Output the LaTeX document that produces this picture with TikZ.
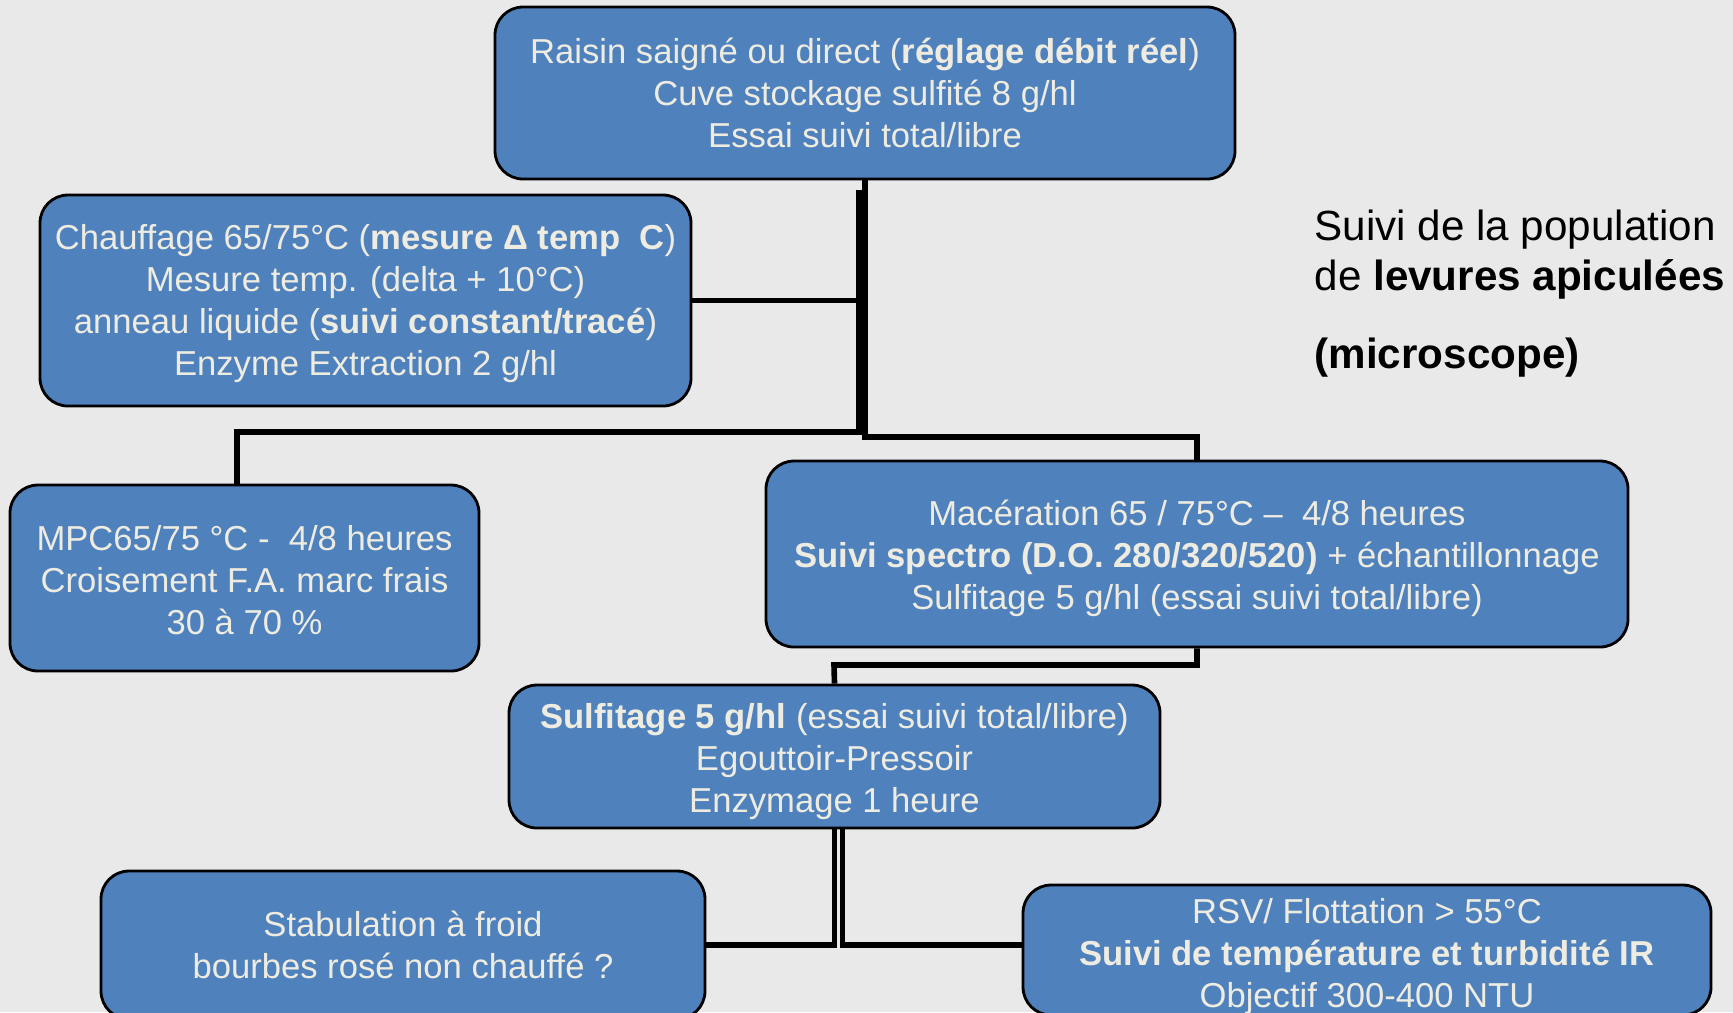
\documentclass[tikz,border=0pt]{standalone}
\usepackage{fontspec}
\setmainfont{Liberation Sans}
\usepackage{tikz}

\definecolor{boxblue}{HTML}{4F81BD}
\definecolor{cream}{HTML}{EEECE1}
\definecolor{backgray}{HTML}{E9E9E9}

% taller first line, to push a box's text down a little
\newcommand{\lift}[1]{\rule{0pt}{#1}}

\begin{document}
\begin{tikzpicture}[
  stage/.style={draw=black, line width=0.8pt, fill=boxblue, rounded corners=0.28cm,
    text=cream, align=center, inner sep=0pt, font=\fontsize{9.85}{11.95}\selectfont},
  link/.style={draw=black, line width=1.6pt}
]

  % Background
  \fill[backgray] (0,0) rectangle (17.33,-10.12);
  \useasboundingbox (0,0) rectangle (17.33,-10.12);

  % Raisin
  \node[stage, minimum width=7.40cm, minimum height=1.72cm] (raisin) at (8.65,-0.93)
    {Raisin saigné ou direct (\textbf{réglage débit réel})\\
     Cuve stockage sulfité 8 g/hl\\
     Essai suivi total/libre};

  % Chauffage
  \node[stage, minimum width=6.51cm, minimum height=2.11cm] (chauf) at (3.655,-3.005)
    {\lift{0.32cm}Chauffage 65/75°C (\textbf{mesure Δ temp\ \ C})\\
     Mesure temp. (delta + 10°C)\\
     anneau liquide (\textbf{suivi constant/tracé})\\
     Enzyme Extraction 2 g/hl};

  % MPC
  \node[stage, minimum width=4.69cm, minimum height=1.86cm] (mpc) at (2.445,-5.78)
    {\lift{0.30cm}MPC65/75 °C -\ \ 4/8 heures\\
     Croisement F.A. marc frais\\
     30 à 70 \%};

  % Maceration
  \node[stage, minimum width=8.62cm, minimum height=1.86cm] (mac) at (11.97,-5.54)
    {\lift{0.34cm}Macération 65 / 75°C –\ \ 4/8 heures\\
     \textbf{Suivi spectro (D.O. 280/320/520)} + échantillonnage\\
     Sulfitage 5 g/hl (essai suivi total/libre)};

  % Sulfitage
  \node[stage, minimum width=6.51cm, minimum height=1.43cm] (sulf) at (8.345,-7.565)
    {\lift{0.36cm}\textbf{Sulfitage 5 g/hl} (essai suivi total/libre)\\
     Egouttoir-Pressoir\\
     Enzymage 1 heure};

  % Stabulation
  \node[stage, minimum width=6.04cm, minimum height=1.48cm] (stab) at (4.03,-9.45)
    {Stabulation à froid\\
     bourbes rosé non chauffé ?};

  % RSV
  \node[stage, minimum width=6.88cm, minimum height=1.30cm] (rsv) at (13.67,-9.50)
    {\lift{0.38cm}RSV/ Flottation > 55°C\\
     \textbf{Suivi de température et turbidité IR}\\
     Objectif 300-400 NTU};

  % Levures
  \node[anchor=north west, align=left, inner sep=0pt,
        font=\fontsize{12}{14.2}\selectfont] (levures) at (13.14,-2.09)
    {Suivi de la population\\
     de \textbf{levures apiculées}\\[0.28cm]
     \textbf{(microscope)}};

  % Connectors
  \coordinate (busR) at (8.65,-4.37);
  \coordinate (topL) at (8.59,-1.90);
  \coordinate (busL) at (8.59,-4.32);
  \coordinate (busM) at (8.34,-6.65);
  \draw[link] (raisin.south) -- (busR) -| (mac.north);
  \draw[link] (topL) -- (busL) -| ([xshift=-0.075cm]mpc.north);
  \draw[link] (chauf.east) -- (chauf.east -| busL);
  \draw[link] (mac.south) |- (busM) -- (sulf.north);
  \draw[link] (sulf.south) |- (stab.east);
  \draw[link] ([xshift=0.08cm]sulf.south) |- ([yshift=0.05cm]rsv.west);

\end{tikzpicture}
\end{document}
